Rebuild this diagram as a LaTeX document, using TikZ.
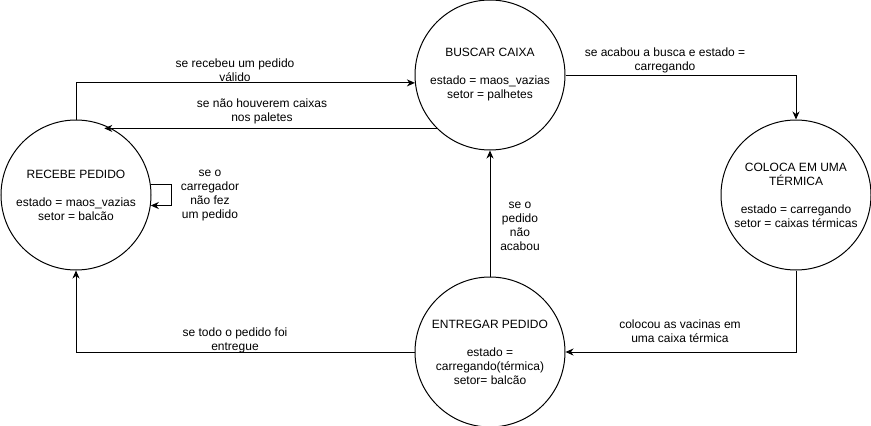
\documentclass[tikz,border=0pt]{standalone}
\usepackage{fontspec}
\setmainfont{Liberation Sans}
\usepackage{tikz}
\usetikzlibrary{arrows.meta}

\begin{document}
\begin{tikzpicture}[
  >={Stealth[length=8pt,width=7pt,inset=2.5pt]},
  x=1pt, y=-1pt,
  state/.style={circle,draw=black,line width=1pt,minimum size=150pt,inner sep=0pt,align=center,font=\fontsize{12}{14}\selectfont},
  edgelabel/.style={align=center,inner sep=0pt,font=\fontsize{12}{14}\selectfont},
  transition/.style={->,line width=1pt}
]

\useasboundingbox (0,0) rectangle (871,426);

\node[state] (recebe) at (76,195) {RECEBE PEDIDO\\[14pt]estado = maos\_vazias\\setor = balcão};
\node[state] (buscar) at (490,75) {BUSCAR CAIXA\\[14pt]estado = maos\_vazias\\setor = palhetes};
\node[state] (coloca) at (796,195) {COLOCA EM UMA\\TÉRMICA\\[14pt]estado = carregando\\setor = caixas térmicas};
\node[state] (entregar) at (490,352) {ENTREGAR PEDIDO\\[14pt]estado =\\carregando(térmica)\\setor= balcão};

\draw[transition] (recebe.north) |- (buscar.186);
\draw[transition] (buscar.225) -- (buscar.225 -| recebe.68);
\draw[transition] (recebe.8) -- ++(21,0) |- (recebe.352);
\draw[transition] (buscar.east) -| (coloca.north);
\draw[transition] (coloca.south) |- (entregar.east);
\draw[transition] (entregar.north) -- (buscar.south);
\draw[transition] (entregar.west) -| (recebe.south);

% labels of the transitions
\node[edgelabel] (lrecebeu) at (235,70) {se recebeu um pedido\\válido};
\node[edgelabel] (lcaixas) at (262,111) {se não houverem caixas\\nos paletes};
\node[edgelabel] (lcarregador) at (210,196) {se o\\carregador\\não fez\\um pedido};
\node[edgelabel] (lbusca) at (665,60) {se acabou a busca e estado =\\carregando};
\node[edgelabel] (lvacinas) at (680,331) {colocou as vacinas em\\uma caixa térmica};
\node[edgelabel] (lacabou) at (520,226) {se o\\pedido\\não\\acabou};
\node[edgelabel] (lentregue) at (235,340) {se todo o pedido foi\\entregue};

\end{tikzpicture}
\end{document}
